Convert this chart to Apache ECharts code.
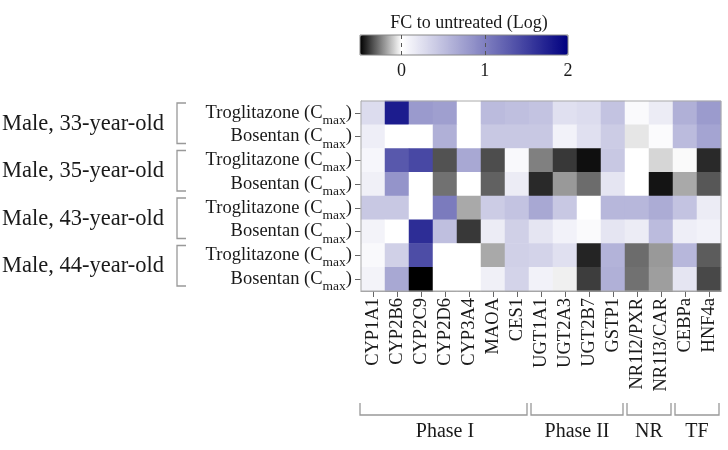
<!DOCTYPE html>
<html><head><meta charset="utf-8">
<script src="https://cdn.jsdelivr.net/npm/echarts@6/dist/echarts.min.js"></script>
<style>html,body{margin:0;padding:0;background:#fff}#c{width:728px;height:450px}</style>
</head><body><div id="c"></div>
<script>
// ---- data ----
const genes = ['CYP1A1','CYP2B6','CYP2C9','CYP2D6','CYP3A4','MAOA','CES1','UGT1A1','UGT2A3','UGT2B7','GSTP1','NR1I2/PXR','NR1I3/CAR','CEBPa','HNF4a'];
const treatments = ['Troglitazone','Bosentan','Troglitazone','Bosentan','Troglitazone','Bosentan','Troglitazone','Bosentan'];
const donors = ['Male, 33-year-old','Male, 35-year-old','Male, 43-year-old','Male, 44-year-old'];
const geneGroups = ['Phase I','Phase II','NR','TF'];
const geneGroupSizes = [7, 4, 2, 2];
const colorbarTicks = [0, 1, 2];
const colorMin = -0.5, colorMax = 2;

const m33Trog = [0.27, 1.78, 0.79, 0.75, 0, 0.53, 0.50, 0.47, 0.24, 0.27, 0.47, 0.04, 0.15, 0.62, 0.78];
const m33Bos  = [0.13, 0, 0, 0.62, 0, 0.43, 0.43, 0.43, 0.10, 0.24, 0.40, -0.05, 0.03, 0.53, 0.71];
const m35Trog = [0.07, 1.31, 1.44, -0.34, 0.68, -0.35, 0.05, -0.25, -0.39, -0.47, 0.43, 0, -0.08, -0.01, -0.42];
const m35Bos  = [0.12, 0.84, 0, -0.28, 0, -0.31, 0.15, -0.42, -0.20, -0.29, 0.20, 0, -0.46, -0.17, -0.33];
const m43Trog = [0.43, 0.43, 0, 1.04, -0.17, 0.40, 0.47, 0.68, 0.43, 0, 0.56, 0.56, 0.65, 0.47, 0.15];
const m43Bos  = [0.09, 0, 1.65, 0.50, -0.39, 0.15, 0.37, 0.20, 0.10, 0.04, 0.20, 0.15, 0.53, 0.13, 0.10];
const m44Trog = [0.05, 0.37, 1.40, 0, 0, -0.17, 0.37, 0.34, 0.24, -0.43, 0.59, -0.29, -0.20, 0.56, -0.32];
const m44Bos  = [0.09, 0.68, -0.50, 0, 0, 0.12, 0.34, 0.10, -0.03, -0.38, 0.62, -0.28, -0.19, 0.20, -0.36];
const rows = [m33Trog, m33Bos, m35Trog, m35Bos, m43Trog, m43Bos, m44Trog, m44Bos];

// ---- build ----
const FF = '"Liberation Serif","Times New Roman",serif';
const TXT = '#1a1a1a';
const data = [];
rows.forEach((r, y) => r.forEach((v, x) => data.push([x, y, v])));

const chart = echarts.init(document.getElementById('c'), null, {renderer: 'canvas'});
const option = {
  backgroundColor: '#fff',
  animation: false,
  title: {
    text: 'FC to untreated (Log)', left: 464, top: 9, textAlign: 'center',
    textStyle: {fontFamily: FF, fontSize: 18, fontWeight: 'normal', color: TXT}
  },
  grid: [
    {left: 361, top: 101, width: 360, height: 190, show: true, borderColor: '#aaa', borderWidth: 1, backgroundColor: 'transparent', z: 3},
    {left: 360, top: 35, width: 208, height: 20, show: true, borderColor: '#888', borderWidth: 1, backgroundColor: 'transparent', z: 10}
  ],
  xAxis: [
    {
      type: 'category', gridIndex: 0, data: genes, position: 'bottom',
      axisLine: {show: true, lineStyle: {color: '#888'}},
      axisTick: {show: true, alignWithLabel: true, length: 6, lineStyle: {color: '#666'}},
      axisLabel: {rotate: 90, margin: 7, fontFamily: FF, fontSize: 18.5, color: TXT, interval: 0},
      splitLine: {show: false}
    },
    {
      type: 'value', gridIndex: 1, min: colorMin, max: colorMax, z: 10,
      axisLine: {show: false},
      axisTick: {show: false, customValues: [0, 1]},
      axisLabel: {customValues: colorbarTicks, margin: 7, fontFamily: FF, fontSize: 18, color: TXT},
      splitLine: {show: true, lineStyle: {color: '#555', type: [4, 4], width: 1}}
    }
  ],
  yAxis: [
    {
      type: 'category', gridIndex: 0, inverse: true,
      data: treatments,
      axisLine: {show: true, lineStyle: {color: '#888'}},
      axisTick: {show: true, alignWithLabel: true, length: 6, lineStyle: {color: '#666'}},
      axisLabel: {
        margin: 9, interval: 0, color: TXT,
        formatter: v => '{n|' + v + ' (C}{s|max}{n|)}',
        rich: {
          n: {fontFamily: FF, fontSize: 18.5, lineHeight: 29, verticalAlign: 'middle', color: TXT},
          s: {fontFamily: FF, fontSize: 13.5, lineHeight: 13, verticalAlign: 'bottom', color: TXT}
        }
      }
    },
    {type: 'value', gridIndex: 1, show: false, min: 0, max: 1}
  ],
  visualMap: {
    type: 'continuous', min: colorMin, max: colorMax, seriesIndex: 0,
    orient: 'horizontal', left: 360, top: 35, padding: 0,
    itemWidth: 20, itemHeight: 208, calculable: false, text: null, showLabel: false,
    hoverLink: false,
    inRange: {color: ['#000000', '#808080', '#ffffff', '#dfdfef', '#bfbfdf', '#9f9fcf', '#8080c0', '#6060b0', '#4040a0', '#202090', '#000080']}
  },
  series: [{
    type: 'heatmap', xAxisIndex: 0, yAxisIndex: 0, data: data,
    itemStyle: {borderWidth: 0},
    emphasis: {disabled: true}
  }]
};
chart.setOption(option);

// ---- annotations derived from axes ----
function drawAnnotations() {
  const g = [];
  const yc = i => chart.convertToPixel({yAxisIndex: 0}, i);
  const xc = i => chart.convertToPixel({xAxisIndex: 0}, i);
  const h = yc(1) - yc(0);
  const w = xc(1) - xc(0);
  donors.forEach((d, i) => {
    const top = yc(2 * i) - h / 2, bot = yc(2 * i + 1) + h / 2;
    g.push({type: 'polyline', shape: {points: [[186, top + 2], [177, top + 2], [177, bot - 5], [186, bot - 5]]},
      style: {stroke: '#999', lineWidth: 1.3, fill: null}, silent: true});
    g.push({type: 'text', x: 164, y: (top + bot) / 2 - 1,
      style: {text: d, font: '22.5px ' + FF, fill: TXT, textAlign: 'right', textVerticalAlign: 'middle'}, silent: true});
  });
  let s = 0;
  geneGroups.forEach((name, k) => {
    const e = s + geneGroupSizes[k] - 1;
    const L = xc(s) - w / 2 + (k === 0 ? -1 : 2), R = xc(e) + w / 2 - 2;
    g.push({type: 'polyline', shape: {points: [[L, 403], [L, 415], [R, 415], [R, 403]]},
      style: {stroke: '#999', lineWidth: 1.3, fill: null}, silent: true});
    g.push({type: 'text', x: (xc(s) + xc(e)) / 2, y: 432,
      style: {text: name, font: '20px ' + FF, fill: TXT, textAlign: 'center', textVerticalAlign: 'middle'}, silent: true});
    s = e + 1;
  });
  chart.setOption({graphic: g});
}
drawAnnotations();
</script>
</body></html>
